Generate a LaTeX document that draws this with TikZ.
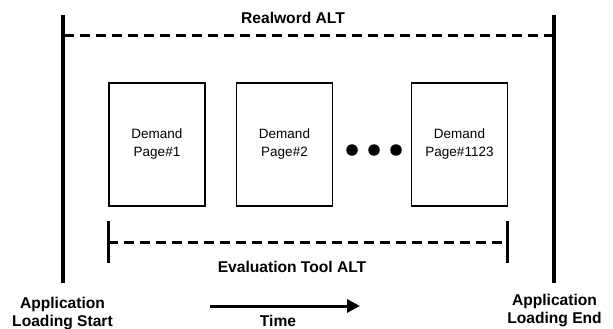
\documentclass[tikz,border=0pt]{standalone}
\usepackage{fontspec}
\setmainfont{Liberation Sans}
\usetikzlibrary{arrows.meta}

\begin{document}
\begin{tikzpicture}[x=1pt, y=-1pt,
  bound/.style={line width=3.4pt},
  span/.style={line width=3pt, dash pattern=on 10pt off 6pt},
  tick/.style={line width=3pt},
  page/.style={draw, line width=1.2pt, minimum width=96pt,
    minimum height=123pt, inner sep=0pt, align=center,
    font=\fontsize{13.5}{18}\selectfont},
  dot/.style={circle, fill, inner sep=0pt, minimum size=11.5pt},
  lbl/.style={font=\bfseries\fontsize{15.6}{18}\selectfont,
    align=center, inner sep=0pt}]

\useasboundingbox (0,0) rectangle (613,329);

% loading start / end
\coordinate (lt) at (63,15);
\coordinate (lb) at (63,283);
\coordinate (rt) at (554,15);
\coordinate (rb) at (554,283);
\draw[bound] (lt) -- (lb);
\draw[bound] (rt) -- (rb);

% realword span
\coordinate (rwl) at (64,36);
\coordinate (rwr) at (553,36);
\draw[span] (rwl) -- (rwr);
\node[lbl] (rw) at (293,18) {Realword ALT};

% demand pages
\node[page] (p1) at (157,144.5) {Demand\\Page\#1};
\node[page] (p2) at (284.5,144.5) {Demand\\Page\#2};
\node[page] (p3) at (459.5,144.5) {Demand\\Page\#1123};
\node[dot] (d1) at (352,150) {};
\node[dot] (d2) at (374,150) {};
\node[dot] (d3) at (396,150) {};

% evaluation tool span
\coordinate (et1) at (108,221);
\coordinate (eb1) at (108,263);
\coordinate (et2) at (507,221);
\coordinate (eb2) at (507,263);
\coordinate (el) at (108,242);
\coordinate (er) at (507,242);
\draw[tick] (et1) -- (eb1);
\draw[tick] (et2) -- (eb2);
\draw[span] (el) -- (er);
\node[lbl] (ev) at (292,267) {Evaluation Tool ALT};

% bottom labels
\node[lbl, anchor=north] (ls) at (62.5,297) {Application\\Loading Start};
\node[lbl, anchor=north] (le) at (554.5,293.5) {Application\\Loading End};
\coordinate (ta) at (210,306);
\coordinate (tb) at (360,306);
\draw[line width=3pt, -{Triangle[length=13pt,width=13pt]}] (ta) -- (tb);
\node[lbl] (tm) at (278,321) {Time};
\end{tikzpicture}
\end{document}
